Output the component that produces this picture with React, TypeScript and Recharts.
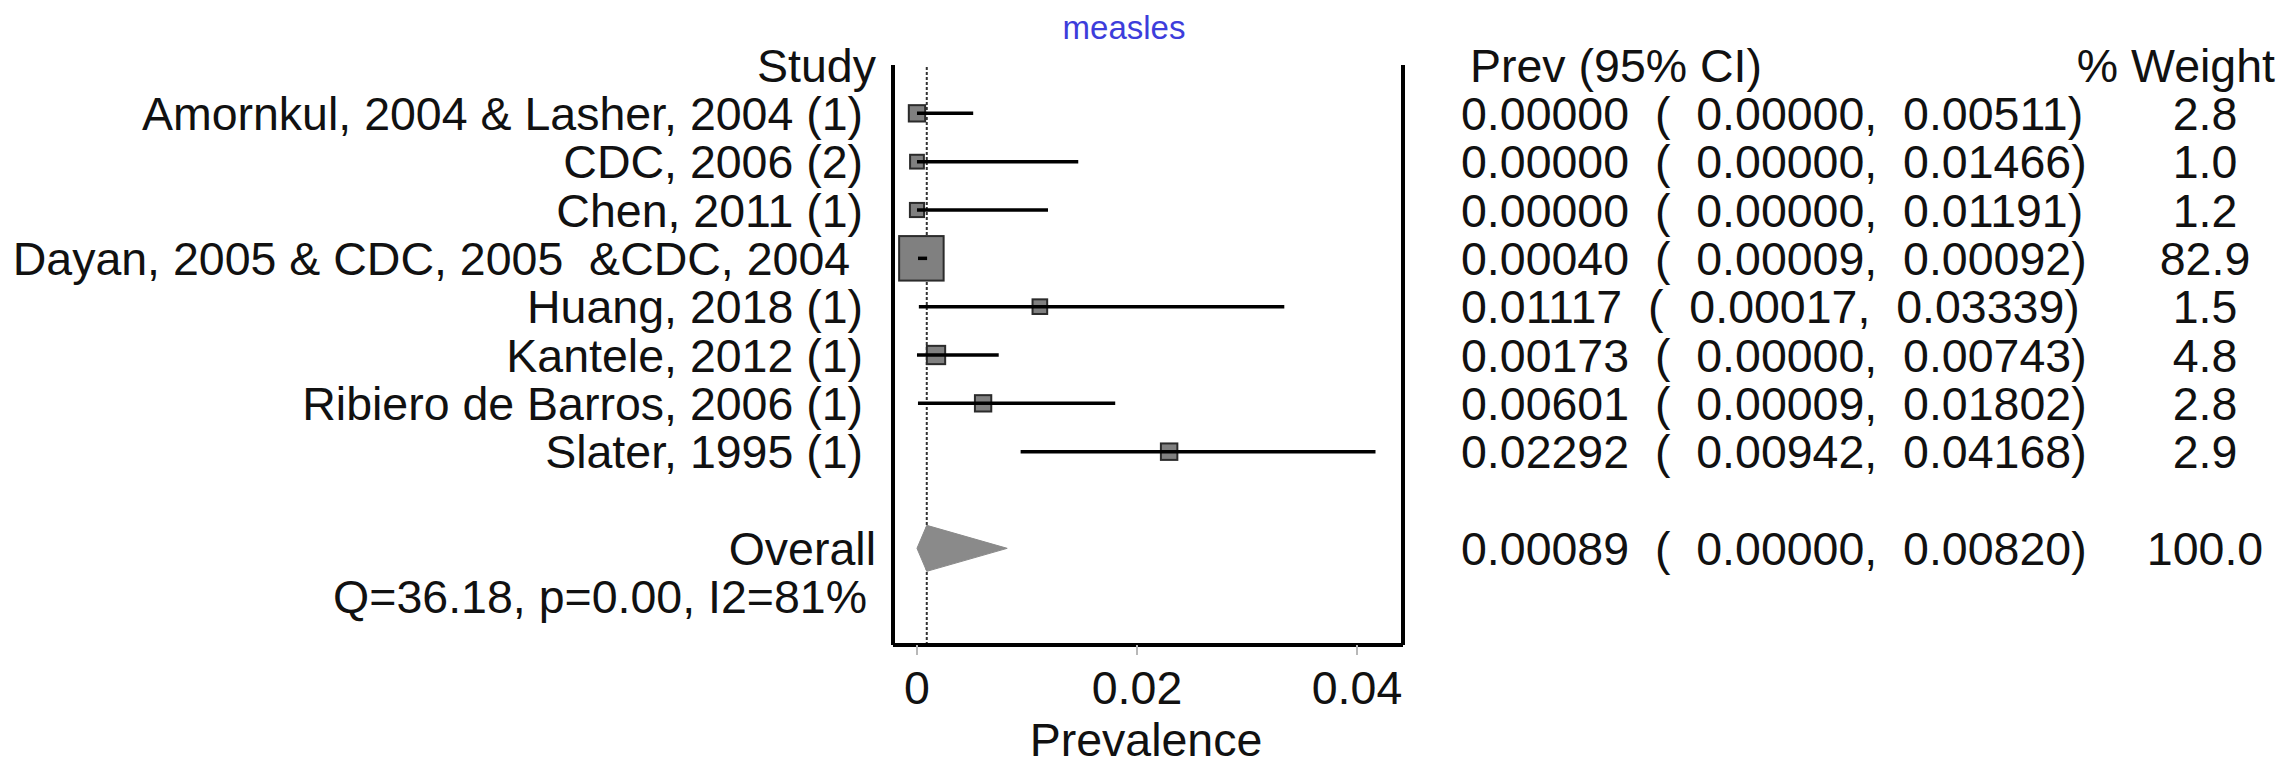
import React from 'react';
import { ScatterChart, Scatter, XAxis, YAxis, ReferenceLine } from 'recharts';

// ---------- data ----------
const studies = [
  'Amornkul, 2004 & Lasher, 2004 (1)',
  'CDC, 2006 (2)',
  'Chen, 2011 (1)',
  'Dayan, 2005 & CDC, 2005  &CDC, 2004 ',
  'Huang, 2018 (1)',
  'Kantele, 2012 (1)',
  'Ribiero de Barros, 2006 (1)',
  'Slater, 1995 (1)',
];
const prevalence = [0.0, 0.0, 0.0, 0.0004, 0.01117, 0.00173, 0.00601, 0.02292];
const lowerCI = [0.0, 0.0, 0.0, 0.00009, 0.00017, 0.0, 0.00009, 0.00942];
const upperCI = [0.00511, 0.01466, 0.01191, 0.00092, 0.03339, 0.00743, 0.01802, 0.04168];
const weights = [2.8, 1.0, 1.2, 82.9, 1.5, 4.8, 2.8, 2.9];

const overallPrev = 0.00089;
const overallLower = 0.0;
const overallUpper = 0.0082;
const overallWeight = 100.0;
const heterogeneity = 'Q=36.18, p=0.00, I2=81%';

const xTicks = [0, 0.02, 0.04];
const xTickLabels = ['0', '0.02', '0.04'];
const title = 'measles';
const xTitle = 'Prevalence';
const headerStudy = 'Study';
const headerPrev = 'Prev (95% CI)';
const headerWeight = '% Weight';
const overallLabel = 'Overall';

// ---------- layout / style ----------
const W = 2287;
const H = 766;
const X_DOMAIN: [number, number] = [-0.00218, 0.04418];
const ROW_COUNT = 12;
const OVERALL_ROW = 10;
const HET_ROW = 11;
const FONT = "'Liberation Sans', Arial, Helvetica, sans-serif";
const FS = 46.5;
const BASE = 16.5;
const LABEL_END = 876;
const HET_END = 867;
const CI_START = 1461;
const PREV_HEADER_START = 1470;
const WEIGHT_CENTER = 2205;
const WEIGHT_HEADER_END = 2275;
const MAX_W = 82.9;

const fmt = (v: number) => v.toFixed(5);
const ciText = (p: number, l: number, u: number) => `${fmt(p)}  (  ${fmt(l)},  ${fmt(u)})`;

const rowTicks = [0, 1, 2, 3, 4, 5, 6, 7, 8, OVERALL_ROW, HET_ROW];

const textStyle: React.CSSProperties = { whiteSpace: 'pre' };

const LeftTick = (props: any) => {
  const { y, payload } = props;
  const r = payload.value;
  let label = '';
  let end = LABEL_END;
  if (r === 0) label = headerStudy;
  else if (r >= 1 && r <= studies.length) label = studies[r - 1] + ' ';
  else if (r === OVERALL_ROW) label = overallLabel;
  else if (r === HET_ROW) {
    label = heterogeneity;
    end = HET_END;
  }
  return (
    <text x={end} y={y + BASE} textAnchor="end" fontFamily={FONT} fontSize={FS} fill="#111" xmlSpace="preserve" style={textStyle}>
      {label}
    </text>
  );
};

const RightTick = (props: any) => {
  const { y, payload } = props;
  const r = payload.value;
  if (r === 0) {
    return (
      <g>
        <text x={PREV_HEADER_START} y={y + BASE} fontFamily={FONT} fontSize={FS} fill="#111">{headerPrev}</text>
        <text x={WEIGHT_HEADER_END} y={y + BASE} textAnchor="end" fontFamily={FONT} fontSize={FS} fill="#111">{headerWeight}</text>
      </g>
    );
  }
  let ci = '';
  let wt = '';
  if (r >= 1 && r <= studies.length) {
    const i = r - 1;
    ci = ciText(prevalence[i], lowerCI[i], upperCI[i]);
    wt = weights[i].toFixed(1);
  } else if (r === OVERALL_ROW) {
    ci = ciText(overallPrev, overallLower, overallUpper);
    wt = overallWeight.toFixed(1);
  } else {
    return <g />;
  }
  return (
    <g>
      <text x={CI_START} y={y + BASE} fontFamily={FONT} fontSize={FS} fill="#111" xmlSpace="preserve" style={textStyle}>{ci}</text>
      <text x={WEIGHT_CENTER} y={y + BASE} textAnchor="middle" fontFamily={FONT} fontSize={FS} fill="#111">{wt}</text>
    </g>
  );
};

const XTick = (props: any) => {
  const { x, y, payload } = props;
  const idx = xTicks.indexOf(payload.value);
  return (
    <text x={x} y={y + 47} textAnchor="middle" fontFamily={FONT} fontSize={FS} fill="#111">
      {idx >= 0 ? xTickLabels[idx] : ''}
    </text>
  );
};

const Nothing = () => <g />;

const BoxShape = (props: any) => {
  const { cx, cy, payload } = props;
  const side = 10 + 34.5 * Math.sqrt(payload.w / MAX_W);
  return (
    <rect x={cx - side / 2} y={cy - side / 2} width={side} height={side} fill="#808080" stroke="#2b2b2b" strokeWidth={2} />
  );
};

const Diamond = (props: any) => {
  const pts = props.points || [];
  if (pts.length < 3) return <g />;
  const half = 23;
  const [a, b, c] = pts;
  const d = `M${a.x},${a.y} L${b.x},${b.y - half} L${c.x},${c.y} L${b.x},${b.y + half} Z`;
  return <path d={d} fill="#8a8a8a" stroke="#8a8a8a" strokeWidth={1} />;
};

const boxData = studies.map((s, i) => ({ x: prevalence[i], y: i + 1, w: weights[i], name: s }));
const diamondData = [
  { x: overallLower, y: OVERALL_ROW },
  { x: overallPrev, y: OVERALL_ROW },
  { x: overallUpper, y: OVERALL_ROW },
];

export default function App() {
  return (
    <div style={{ position: 'absolute', left: 0, top: 0, width: W, height: H, background: '#fff' }}>
      <ScatterChart width={W} height={H} margin={{ top: 65, right: 883, bottom: 0, left: 892 }}>
        <XAxis
          type="number"
          dataKey="x"
          domain={X_DOMAIN}
          allowDataOverflow
          ticks={xTicks}
          interval={0}
          height={121}
          axisLine={{ stroke: '#000', strokeWidth: 4 }}
          tickLine={{ stroke: '#b8b8b8', strokeWidth: 2 }}
          tickSize={10}
          tickMargin={2}
          tick={<XTick />}
        />
        <YAxis
          yAxisId={0}
          type="number"
          dataKey="y"
          domain={[0, ROW_COUNT]}
          reversed
          allowDataOverflow
          ticks={rowTicks}
          interval={0}
          width={1}
          axisLine={{ stroke: '#000', strokeWidth: 4 }}
          tickLine={false}
          tick={<LeftTick />}
        />
        <YAxis
          yAxisId="r"
          orientation="right"
          type="number"
          dataKey="y"
          domain={[0, ROW_COUNT]}
          reversed
          allowDataOverflow
          ticks={rowTicks}
          interval={0}
          width={1}
          axisLine={{ stroke: '#000', strokeWidth: 4 }}
          tickLine={false}
          tick={<RightTick />}
        />
        <ReferenceLine x={overallPrev} stroke="#333" strokeWidth={2} strokeDasharray="3 2" />
        <Scatter data={boxData} shape={BoxShape} isAnimationActive={false} />
        {studies.map((s, i) => (
          <Scatter
            key={s}
            data={[
              { x: lowerCI[i], y: i + 1 },
              { x: upperCI[i], y: i + 1 },
            ]}
            line={{ stroke: '#000', strokeWidth: 3.5 }}
            shape={Nothing}
            isAnimationActive={false}
          />
        ))}
        <Scatter data={diamondData} line={Diamond} shape={Nothing} isAnimationActive={false} />
        <text x={1124} y={39} textAnchor="middle" fontFamily={FONT} fontSize={33} fill="#3d3ddb">{title}</text>
        <text x={1146} y={756} textAnchor="middle" fontFamily={FONT} fontSize={FS} fill="#111">{xTitle}</text>
      </ScatterChart>
    </div>
  );
}
